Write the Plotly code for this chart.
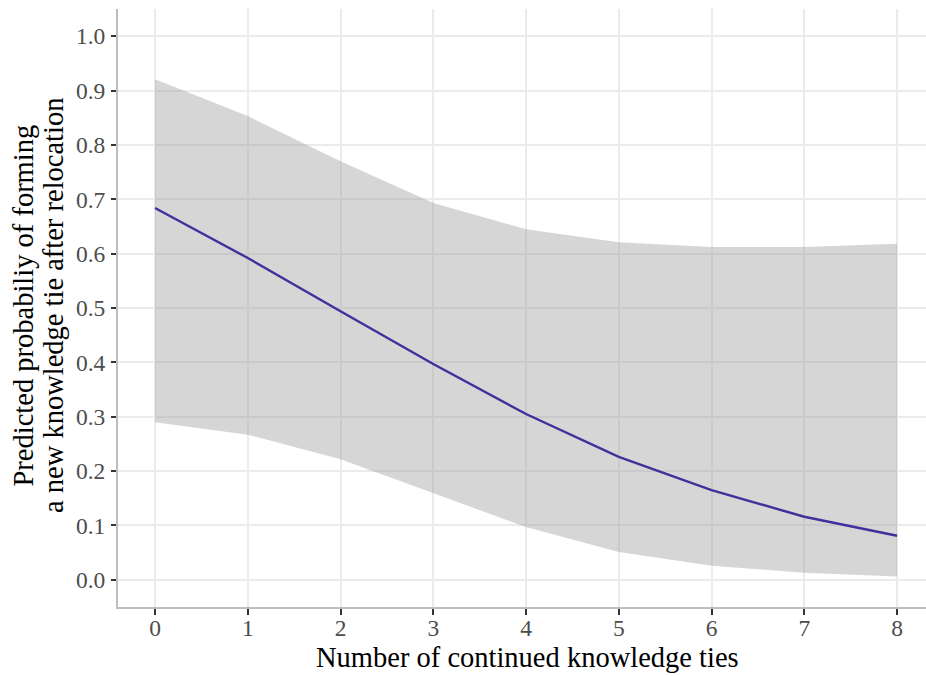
import plotly.graph_objects as go

ties = [0, 1, 2, 3, 4, 5, 6, 7, 8]
predicted = [0.684, 0.592, 0.494, 0.397, 0.305, 0.226, 0.165, 0.116, 0.081]
upper_ci = [0.921, 0.853, 0.770, 0.693, 0.645, 0.621, 0.612, 0.612, 0.618]
lower_ci = [0.290, 0.267, 0.222, 0.160, 0.097, 0.051, 0.026, 0.013, 0.006]
y_ticks = [0.0, 0.1, 0.2, 0.3, 0.4, 0.5, 0.6, 0.7, 0.8, 0.9, 1.0]
y_ticklabels = ["0.0", "0.1", "0.2", "0.3", "0.4", "0.5", "0.6", "0.7", "0.8", "0.9", "1.0"]
x_title = "Number of continued knowledge ties"
y_title_line1 = "Predicted probabiliy of forming"
y_title_line2 = "a new knowledge tie after relocation"

font_family = "Liberation Serif, Times New Roman, serif"
W, H = 926, 676
ML, MR, MT, MB = 118, 0, 9, 69
PW = W - ML - MR
PH = H - MT - MB


def px_x(page_x):
    return (page_x - ML) / PW


def px_y(page_y):
    return ((H - MB) - page_y) / PH


fig = go.Figure()
fig.add_trace(go.Scatter(x=ties, y=upper_ci, mode="lines", line=dict(width=0),
                         hoverinfo="skip", showlegend=False))
fig.add_trace(go.Scatter(x=ties, y=lower_ci, mode="lines", line=dict(width=0),
                         fill="tonexty", fillcolor="rgba(153,153,153,0.4)",
                         hoverinfo="skip", showlegend=False))
fig.add_trace(go.Scatter(x=ties, y=predicted, mode="lines",
                         line=dict(color="#41309C", width=2.4), showlegend=False))

title_font = dict(size=28.5, color="black", family=font_family)
fig.update_layout(
    width=W, height=H,
    margin=dict(l=ML, r=MR, t=MT, b=MB),
    plot_bgcolor="white", paper_bgcolor="white",
    font=dict(family=font_family, color="#4D4D4D", size=23),
    annotations=[
        dict(text=x_title, xref="paper", yref="paper", x=px_x(527), y=px_y(657),
             xanchor="center", yanchor="middle", showarrow=False, font=title_font),
        dict(text=y_title_line1, xref="paper", yref="paper", x=px_x(22.5), y=px_y(306),
             xanchor="center", yanchor="middle", textangle=-90, showarrow=False,
             font=title_font),
        dict(text=y_title_line2, xref="paper", yref="paper", x=px_x(53), y=px_y(306),
             xanchor="center", yanchor="middle", textangle=-90, showarrow=False,
             font=title_font),
    ],
)
fig.update_xaxes(
    range=[-0.399, 8.312], tickvals=ties, ticktext=[str(t) for t in ties],
    showgrid=True, gridcolor="#EBEBEB", gridwidth=2, zeroline=False,
    showline=True, linecolor="#BEBEBE", linewidth=2,
    ticks="outside", ticklen=6, tickwidth=2, tickcolor="#333333",
    tickfont=dict(size=23.5, color="#4D4D4D"), automargin=False,
    ticklabelstandoff=-7,
)
fig.update_yaxes(
    range=[-0.05, 1.05], tickvals=y_ticks, ticktext=y_ticklabels,
    showgrid=True, gridcolor="#EBEBEB", gridwidth=2, zeroline=False,
    showline=True, linecolor="#BEBEBE", linewidth=2,
    ticks="outside", ticklen=5, tickwidth=2, tickcolor="#333333",
    tickfont=dict(size=23.5, color="#4D4D4D"), automargin=False,
    ticklabelstandoff=1,
)

fig.write_html(
    "out.html",
    config={"displayModeBar": False},
    post_script="document.body.style.margin='0';document.body.style.overflow='hidden';",
)
